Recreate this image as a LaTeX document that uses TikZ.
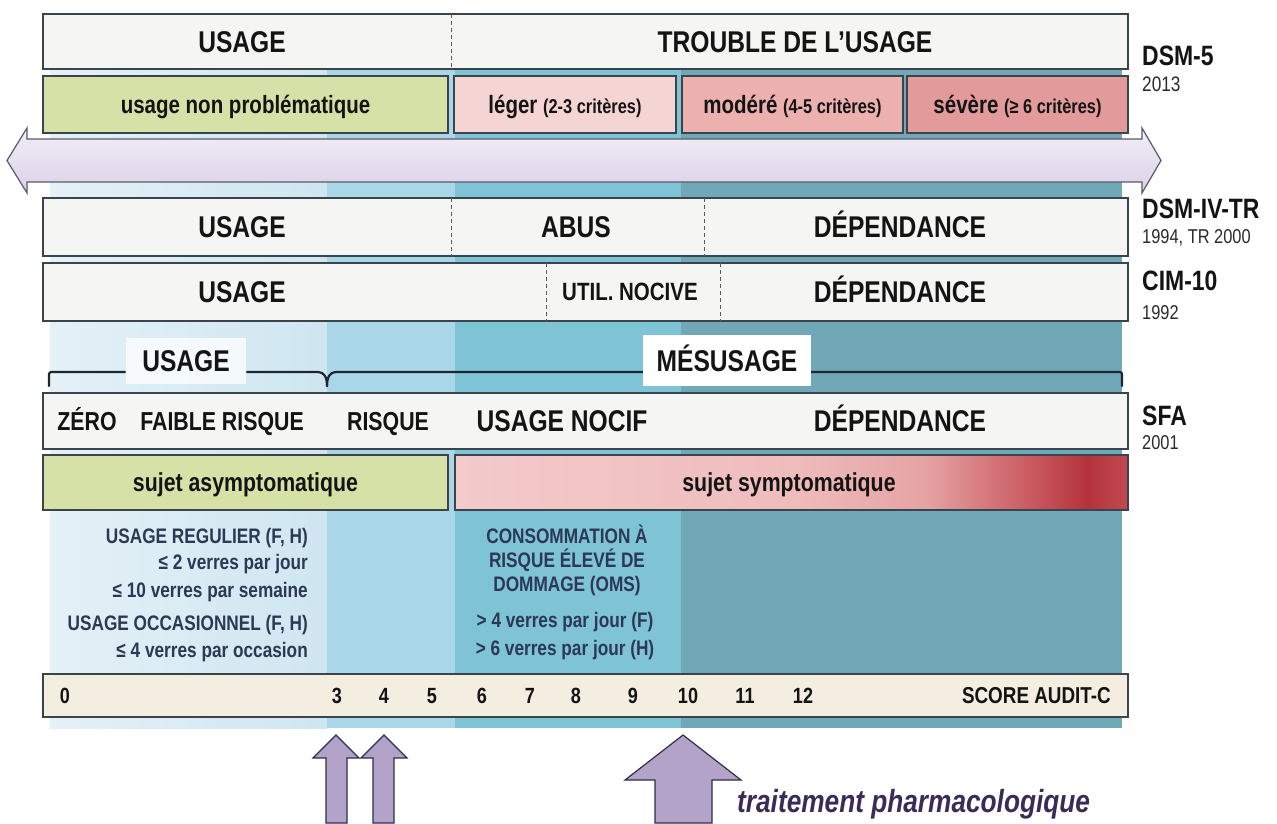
\documentclass[tikz,border=0pt]{standalone}
\usepackage{fontspec}
\setmainfont{Liberation Sans}[FakeStretch=0.82]
\usetikzlibrary{calc}

% palette
\definecolor{boxfill}{HTML}{F5F5F4}
\definecolor{boxline}{HTML}{3A444C}
\definecolor{textdark}{HTML}{141414}
\definecolor{textgrey}{HTML}{2A2A2A}
\definecolor{infotext}{HTML}{2C3854}
\definecolor{purpletext}{HTML}{3A2C56}
\definecolor{dividergrey}{HTML}{5A5A5A}
\definecolor{bracketcol}{HTML}{1C2830}
\definecolor{colAl}{HTML}{E4F1F7}
\definecolor{colAr}{HTML}{CFE6F1}
\definecolor{colB}{HTML}{A9D7E7}
\definecolor{colC}{HTML}{7FC3D6}
\definecolor{colD}{HTML}{71A8B8}
\definecolor{greenbox}{HTML}{D6E1A8}
\definecolor{pinkA}{HTML}{F5D5D4}
\definecolor{pinkB}{HTML}{ECB0AF}
\definecolor{pinkC}{HTML}{E29A9A}
\definecolor{scorefill}{HTML}{F3EEE0}
\definecolor{lav}{HTML}{B3A3C9}
\definecolor{lavline}{HTML}{2C2E4E}
\definecolor{arrowTop}{HTML}{F2EEF6}
\definecolor{arrowBot}{HTML}{DCD1E7}
\definecolor{arrowLine}{HTML}{5A5A66}
\definecolor{sA}{HTML}{F4CACA}
\definecolor{sB}{HTML}{EFBCBC}
\definecolor{sC}{HTML}{E6A2A3}
\definecolor{sD}{HTML}{C8585E}
\definecolor{sE}{HTML}{B4323B}
\definecolor{sF}{HTML}{C24A51}

% pink-to-red ramp of the symptomatic band
\pgfdeclarehorizontalshading{sympshade}{100bp}{color(0bp)=(sA); color(25bp)=(sA); color(50bp)=(sB); color(60bp)=(sC); color(68bp)=(sD); color(72bp)=(sE); color(75bp)=(sF); color(100bp)=(sF)}

\tikzset{
  rowbox/.style={draw=boxline, line width=1.3pt, fill=boxfill, inner sep=0pt, outer sep=0pt},
  lab/.style={font=\bfseries\fontsize{#1pt}{#1pt}\selectfont, text=textdark, inner sep=0pt, text height={0.716*#1pt}, text depth=0pt},
  yearlab/.style={font=\fontsize{#1pt}{#1pt}\selectfont, text=textgrey, inner sep=0pt, anchor=west, text height={0.716*#1pt}, text depth=0pt},
  namelab/.style={font=\bfseries\fontsize{28pt}{28pt}\selectfont, text=textdark, inner sep=0pt, anchor=west, text height=20pt, text depth=0pt},
  info/.style={font=\bfseries\fontsize{21pt}{21pt}\selectfont, text=infotext, inner sep=0pt, text height=15pt, text depth=0pt},
  divider/.style={draw=dividergrey, line width=1pt, dash pattern=on 4pt off 3pt},
  sfabracket/.style={draw=bracketcol, line width=2.2pt, line cap=round},
  uparrow/.style={fill=lav, draw=lavline, line width=1.2pt, line join=miter},
}

\begin{document}
\begin{tikzpicture}[x=1pt,y=-1pt]
\useasboundingbox (0,0) rectangle (1277,823);
\fill[white] (0,0) rectangle (1277,823);

% coloured columns behind the scales
\shade[left color=colAl, right color=colAr] (50,70) rectangle (327,728);
\fill[colB] (327,70) rectangle (455,728);
\fill[colC] (455,70) rectangle (681,728);
\fill[colD] (681,70) rectangle (1122,728);

% ---------------- DSM-5 ----------------
\node[rowbox, minimum width=1085pt, minimum height=55pt] (dsmtop) at (585.5,41.5) {};
\coordinate (topdiv) at (451,41.5);
\draw[divider] (topdiv |- dsmtop.north) -- (topdiv |- dsmtop.south);
\node[lab=30] (topusage) at (242,41.5) {USAGE};
\node[lab=30] (toptrouble) at (795,41.5) {TROUBLE DE L'USAGE};

\node[rowbox, fill=greenbox, minimum width=405pt, minimum height=57pt, lab=25] (nonprob) at (245.5,104.5) {usage non problématique};
\node[rowbox, fill=pinkA, minimum width=222pt, minimum height=57pt, lab=25] (leger) at (565,104.5) {léger {\fontsize{20pt}{20pt}\selectfont (2-3 critères)}};
\node[rowbox, fill=pinkB, minimum width=221pt, minimum height=57pt, lab=25] (modere) at (792.5,104.5) {modéré {\fontsize{20pt}{20pt}\selectfont (4-5 critères)}};
\node[rowbox, fill=pinkC, minimum width=221pt, minimum height=57pt, lab=25] (severe) at (1017.5,104.5) {sévère {\fontsize{20pt}{20pt}\selectfont (≥ 6 critères)}};

\node[namelab] (dsmfive) at (1142,55) {DSM-5};
\node[yearlab=21] (dsmfiveyr) at (1142,84) {2013};

% double-headed axis arrow
\draw[arrowLine, line width=1.2pt, top color=arrowTop, bottom color=arrowBot]
  (7,160.5) -- (27,128) -- (27,139) -- (1142,139) -- (1142,128) -- (1161,160.5)
  -- (1142,193) -- (1142,182) -- (27,182) -- (27,193) -- cycle;

% ---------------- DSM-IV-TR ----------------
\node[rowbox, minimum width=1085pt, minimum height=58pt] (dsmiv) at (585.5,227) {};
\coordinate (ivdivA) at (451,227);
\coordinate (ivdivB) at (704,227);
\draw[divider] (ivdivA |- dsmiv.north) -- (ivdivA |- dsmiv.south);
\draw[divider] (ivdivB |- dsmiv.north) -- (ivdivB |- dsmiv.south);
\node[lab=30] (ivusage) at (242,227) {USAGE};
\node[lab=30] (ivabus) at (576,227) {ABUS};
\node[lab=30] (ivdep) at (900,227) {DÉPENDANCE};
\node[namelab] (dsmivname) at (1142,208) {DSM-IV-TR};
\node[yearlab=20] (dsmivyr) at (1142,236) {1994, TR 2000};

% ---------------- CIM-10 ----------------
\node[rowbox, minimum width=1085pt, minimum height=58pt] (cim) at (585.5,292) {};
\coordinate (cimdivA) at (546,292);
\coordinate (cimdivB) at (720,292);
\draw[divider] (cimdivA |- cim.north) -- (cimdivA |- cim.south);
\draw[divider] (cimdivB |- cim.north) -- (cimdivB |- cim.south);
\node[lab=30] (cimusage) at (242,292) {USAGE};
\node[lab=25] (cimnocive) at (630,292) {UTIL. NOCIVE};
\node[lab=30] (cimdep) at (900,292) {DÉPENDANCE};
\node[namelab] (cimname) at (1142,280) {CIM-10};
\node[yearlab=20] (cimyr) at (1142,312) {1992};

% ---------------- SFA brackets ----------------
\draw[sfabracket] (49,386) -- (49,377) .. controls (49,372) .. (54,372) -- (125,372);
\draw[sfabracket] (247,372) -- (318,372) .. controls (324,372) and (327,377) .. (327,386);
\draw[sfabracket] (327,386) .. controls (327,377) and (330,372) .. (336,372) -- (643,372);
\draw[sfabracket] (811,372) -- (1117,372) .. controls (1122,372) .. (1122,377) -- (1122,386);
\node[lab=30, fill=white, fill opacity=0.75, text opacity=1, minimum width=120pt, minimum height=46pt] (sfausage) at (186,361) {USAGE};
\node[lab=30, fill=white, minimum width=168pt, minimum height=51pt] (sfamesusage) at (727,360.5) {MÉSUSAGE};

% ---------------- SFA ----------------
\node[rowbox, minimum width=1085pt, minimum height=56pt] (sfa) at (585.5,421) {};
\node[lab=26] (zero) at (87,421) {ZÉRO};
\node[lab=26] (faible) at (222,421) {FAIBLE RISQUE};
\node[lab=26] (risque) at (388,421) {RISQUE};
\node[lab=30] (nocif) at (562,421) {USAGE NOCIF};
\node[lab=30] (sfadep) at (900,421) {DÉPENDANCE};
\node[namelab] (sfaname) at (1142,415) {SFA};
\node[yearlab=20] (sfayr) at (1142,442) {2001};

\node[rowbox, fill=greenbox, minimum width=405pt, minimum height=55pt, lab=26] (asympt) at (245.5,482.5) {sujet asymptomatique};
\node[rowbox, shade, shading=sympshade, minimum width=673pt, minimum height=55pt] (sympt) at (791.5,482.5) {};
\node[lab=26] (symptlab) at (789,482.5) {sujet symptomatique};

% ---------------- consumption thresholds ----------------
\node[info, anchor=east] (regA) at (308,536) {USAGE REGULIER (F, H)};
\node[info, anchor=east] (regB) at (308,562) {≤ 2 verres par jour};
\node[info, anchor=east] (regC) at (308,590) {≤ 10 verres par semaine};
\node[info, anchor=east] (occA) at (308,623) {USAGE OCCASIONNEL (F, H)};
\node[info, anchor=east] (occB) at (308,650) {≤ 4 verres par occasion};

\node[info] (omsA) at (567,536) {CONSOMMATION À};
\node[info] (omsB) at (567,560) {RISQUE ÉLEVÉ DE};
\node[info] (omsC) at (567,584) {DOMMAGE (OMS)};
\node[info] (omsD) at (565,620) {> 4 verres par jour (F)};
\node[info] (omsE) at (565,648) {> 6 verres par jour (H)};

% ---------------- AUDIT-C score ----------------
\node[rowbox, fill=scorefill, minimum width=1085pt, minimum height=43pt] (score) at (585.5,695.5) {};
\foreach \v/\x in {0/65, 3/337, 4/384, 5/432, 6/482, 7/530, 8/576, 9/633, 10/688, 11/745, 12/803}
  \node[lab=22] (s\v) at (\x,695.5) {\v};
\node[lab=23, anchor=east] (scorename) at (1111,695.5) {SCORE AUDIT-C};

% ---------------- intervention arrows ----------------
\draw[uparrow] (336,735) -- (359,758) -- (347,758) -- (347,823) -- (326,823) -- (326,758) -- (313,758) -- cycle;
\draw[uparrow] (384,735) -- (407,758) -- (394,758) -- (394,823) -- (373,823) -- (373,758) -- (361,758) -- cycle;
\draw[uparrow] (683,735) -- (741,780) -- (712,780) -- (712,823) -- (655,823) -- (655,780) -- (625,780) -- cycle;
\node[font=\bfseries\itshape\fontsize{32pt}{32pt}\selectfont, text=purpletext, anchor=base west, inner sep=0pt] (treat) at (737,812) {traitement pharmacologique};
\end{tikzpicture}
\end{document}
